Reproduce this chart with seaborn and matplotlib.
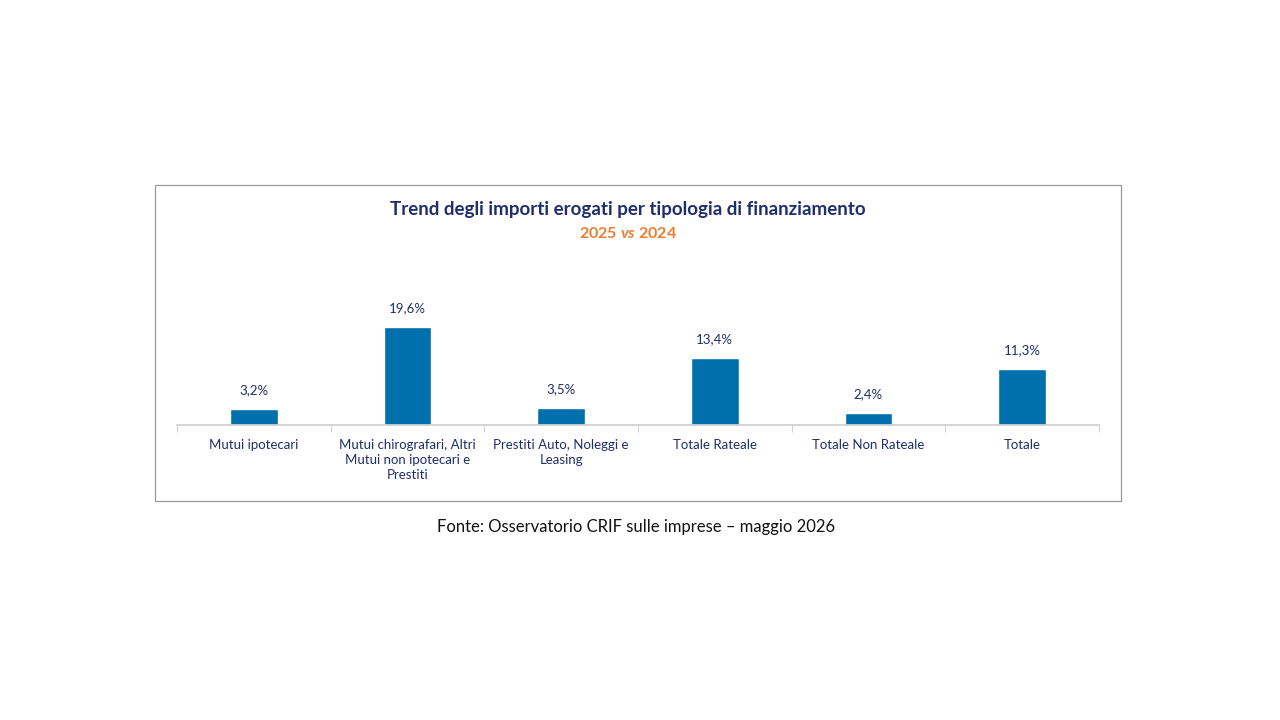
"""Trend degli importi erogati per tipologia di finanziamento (2025 vs 2024)."""

import numpy as np
import pandas as pd
import matplotlib.pyplot as plt
import seaborn as sns
from matplotlib.patches import Rectangle

# --- Data ---
df = pd.DataFrame({
    "categoria": [
        "Mutui ipotecari",
        "Mutui chirografari, Altri\nMutui non ipotecari e\nPrestiti",
        "Prestiti Auto, Noleggi e\nLeasing",
        "Totale Rateale",
        "Totale Non Rateale",
        "Totale",
    ],
    "variazione": [3.2, 19.6, 3.5, 13.4, 2.4, 11.3],
})

# --- Style ---
sns.set_theme(style="white")
plt.rcParams["font.family"] = ["Lato", "DejaVu Sans"]
plt.rcParams["mathtext.fontset"] = "custom"
plt.rcParams["mathtext.it"] = "Lato:italic:bold"
NAVY = "#1F2F6B"
BAR = "#0070AD"
ORANGE = "#ED7D31"

fig = plt.figure(figsize=(12.8, 7.2), dpi=100)
fig.patch.set_facecolor("white")

# chart frame
fig.patches.append(Rectangle((155 / 1280, 1 - 501 / 720), 966 / 1280, 316 / 720,
                             transform=fig.transFigure, fill=False,
                             edgecolor="#9A9A9A", linewidth=0.9))

ax = fig.add_axes([177 / 1280, 1 - 425 / 720, 922 / 1280, 125 / 720])
sns.barplot(data=df, x="categoria", y="variazione", color=BAR, width=0.31,
            saturation=1, ax=ax)

for i, v in enumerate(df["variazione"]):
    ax.annotate(f"{v:.1f}%".replace(".", ","), (i, v), xytext=(0, 9),
                textcoords="offset points", ha="center", va="bottom",
                fontsize=9.5, color=NAVY)

ax.set_xlim(-0.5, 5.5)
ax.set_ylim(0, 25)
ax.set_xlabel("")
ax.set_ylabel("")
ax.set_yticks([])
for s in ["top", "right", "left"]:
    ax.spines[s].set_visible(False)
ax.spines["bottom"].set_color("#D0D0D0")
ax.tick_params(axis="x", which="major", length=0, pad=10, labelsize=9.5, labelcolor=NAVY)
ax.set_xticks(np.arange(-0.5, 6, 1), minor=True)
ax.tick_params(axis="x", which="minor", bottom=True, length=5, width=0.8,
               color="#D0D0D0", direction="out")
for lbl in ax.get_xticklabels():
    lbl.set_verticalalignment("top")
    lbl.set_linespacing(1.3)

fig.text(628 / 1280, 1 - 209 / 720, "Trend degli importi erogati per tipologia di finanziamento",
         ha="center", va="center", fontsize=13.5, fontweight="bold", color=NAVY)
fig.text(628 / 1280, 1 - 234 / 720, r"2025 $\it{vs}$ 2024",
         ha="center", va="center", fontsize=11.5, fontweight="bold", color=ORANGE)
fig.text(636 / 1280, 1 - 527 / 720, "Fonte: Osservatorio CRIF sulle imprese – maggio 2026",
         ha="center", va="center", fontsize=12, color="#111111")

fig.savefig("out.png", dpi=100, facecolor="white")
plt.close(fig)
